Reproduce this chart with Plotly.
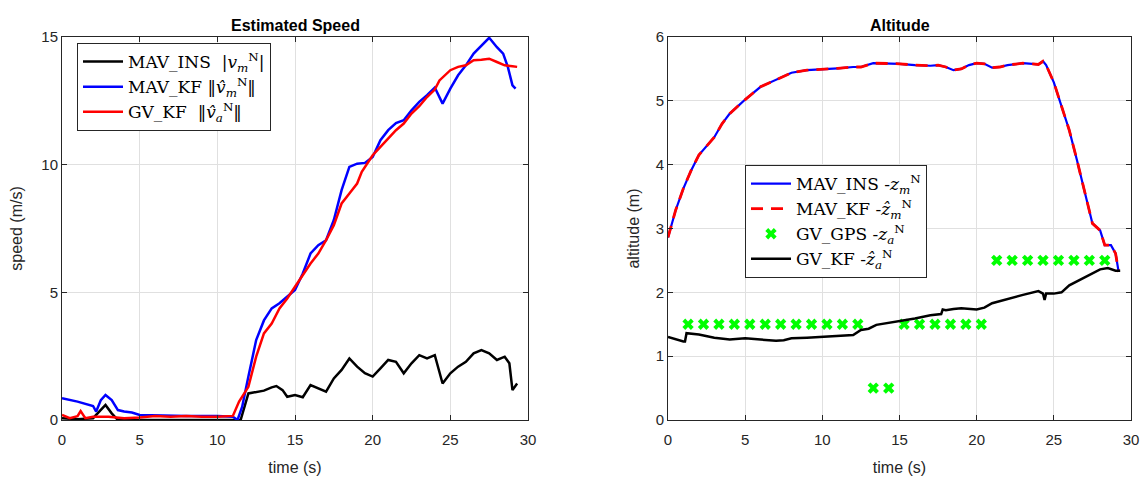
import plotly.graph_objects as go

# ---------------- Speed data ----------------
t_mav_kf = [0, 1, 2, 2.2, 2.5, 2.8, 3.2, 3.6, 4, 4.5, 5, 6, 8, 10, 11, 11.3, 11.6, 12, 12.5, 13, 13.5, 14,
            14.5, 15, 15.5, 16, 16.5, 17, 17.5, 18, 18.5, 19, 19.5, 20, 20.5, 21, 21.5, 22, 22.5, 23, 23.5,
            24, 24.5, 25, 25.5, 26, 26.5, 27, 27.5, 28, 28.4, 28.7, 29, 29.2]
v_mav_kf = [0.85, 0.72, 0.55, 0.33, 0.78, 0.98, 0.78, 0.39, 0.33, 0.29, 0.2, 0.18, 0.16, 0.16, 0.13, 0.0, 0.52,
            1.7, 3.13, 3.9, 4.37, 4.57, 4.83, 5.09, 5.74, 6.52, 6.85, 7.04, 7.83, 9.0, 9.91, 10.04, 10.07,
            10.3, 10.96, 11.35, 11.63, 11.74, 12.13, 12.46, 12.72, 13.02, 12.39, 12.98, 13.5, 13.89, 14.35,
            14.67, 14.97, 14.6, 14.35, 13.83, 13.11, 12.98]

t_gv_kf = [0, 0.5, 1, 1.2, 1.5, 2, 3, 4, 5, 6, 7, 8, 9, 10, 11, 11.4, 12, 12.5, 13, 13.5, 14, 14.5, 15, 15.5,
           16, 16.5, 17, 17.5, 18, 18.5, 19, 19.3, 20, 20.5, 21, 21.5, 22, 22.5, 23, 23.5, 24, 24.3, 25,
           25.5, 26, 26.5, 27, 27.5, 28, 28.5, 29, 29.3]
v_gv_kf = [0.2, 0.07, 0.15, 0.35, 0.07, 0.13, 0.13, 0.07, 0.1, 0.16, 0.13, 0.16, 0.13, 0.13, 0.16, 0.72, 1.3,
           2.48, 3.39, 3.78, 4.37, 4.76, 5.22, 5.67, 6.13, 6.52, 7.04, 7.63, 8.48, 8.87, 9.26, 9.72, 10.37,
           10.7, 11.02, 11.35, 11.61, 12.0, 12.29, 12.65, 12.94, 13.3, 13.7, 13.83, 13.89, 14.09, 14.11,
           14.15, 14.02, 13.89, 13.85, 13.83]

t_mav_ins = [0, 1, 2, 2.5, 2.8, 3.2, 3.6, 5, 8, 11, 11.5, 12, 12.5, 13, 13.5, 13.8, 14.2, 14.5, 15, 15.5, 16,
             16.5, 17, 17.5, 18, 18.5, 19, 19.5, 20, 20.5, 21, 21.5, 22, 22.5, 23, 23.5, 24, 24.5, 25, 25.5,
             26, 26.5, 27, 27.5, 28, 28.5, 28.8, 29, 29.3]
v_mav_ins = [0.07, 0.03, 0.07, 0.39, 0.59, 0.26, 0.0, 0.0, 0.0, 0.0, 0.0, 1.04, 1.11, 1.15, 1.28, 1.33, 1.17,
             0.91, 0.98, 0.89, 1.37, 1.24, 1.11, 1.63, 1.96, 2.41, 2.09, 1.83, 1.7, 2.02, 2.35, 2.28, 1.83,
             2.22, 2.54, 2.41, 2.54, 1.43, 1.83, 2.09, 2.28, 2.61, 2.74, 2.61, 2.35, 2.48, 2.22, 1.17, 1.43]

# ---------------- Altitude data ----------------
t_alt_mav = [0, 0.5, 1, 1.5, 2, 3, 3.5, 4, 4.5, 5, 6, 7, 8, 9, 10, 11, 12, 12.5, 13.3, 14, 15, 16, 17, 17.5,
             18, 18.5, 19, 19.5, 20, 20.5, 21, 21.5, 22, 23, 24, 24.3, 24.5, 25, 25.5, 26, 26.5, 27, 27.5,
             28, 28.3, 28.7, 29, 29.2]
z_alt_mav = [2.86, 3.29, 3.63, 3.91, 4.15, 4.43, 4.64, 4.8, 4.91, 5.02, 5.22, 5.33, 5.44, 5.48, 5.49, 5.51,
             5.53, 5.53, 5.59, 5.59, 5.58, 5.56, 5.55, 5.56, 5.53, 5.48, 5.5, 5.56, 5.59, 5.58, 5.52, 5.53,
             5.56, 5.59, 5.57, 5.62, 5.56, 5.29, 4.9, 4.54, 4.07, 3.55, 3.08, 2.97, 2.74, 2.74, 2.61, 2.32]

t_alt_gvkf = [0, 0.5, 1, 1.1, 1.2, 2, 3, 4, 5, 6, 7, 7.5, 8, 9, 10, 11, 12, 12.5, 13, 13.5, 14, 15, 16, 17,
              17.7, 17.8, 18, 18.5, 19, 20, 20.5, 21, 22, 23, 24, 24.3, 24.4, 24.5, 25, 25.5, 26, 27, 28,
              28.5, 29, 29.3]
z_alt_gvkf = [1.3, 1.26, 1.23, 1.23, 1.36, 1.34, 1.29, 1.26, 1.28, 1.26, 1.24, 1.25, 1.28, 1.29, 1.3, 1.31,
              1.33, 1.41, 1.43, 1.49, 1.51, 1.54, 1.59, 1.64, 1.66, 1.73, 1.72, 1.74, 1.75, 1.73, 1.76, 1.83,
              1.9, 1.96, 2.02, 1.98, 1.88, 1.98, 1.98, 2.0, 2.11, 2.24, 2.36, 2.38, 2.34, 2.34]

t_gps = [1.3, 2.3, 3.3, 4.3, 5.3, 6.3, 7.3, 8.3, 9.3, 10.3, 11.3, 12.3, 13.3, 14.3, 15.3, 16.3, 17.3, 18.3,
         19.3, 20.3, 21.3, 22.3, 23.3, 24.3, 25.3, 26.3, 27.3, 28.3]
z_gps = [1.5, 1.5, 1.5, 1.5, 1.5, 1.5, 1.5, 1.5, 1.5, 1.5, 1.5, 1.5, 0.5, 0.5, 1.5, 1.5, 1.5, 1.5, 1.5, 1.5,
         2.5, 2.5, 2.5, 2.5, 2.5, 2.5, 2.5, 2.5]

speed_yticks = [0, 5, 10, 15]
alt_yticks = [0, 1, 2, 3, 4, 5, 6]
time_ticks = [0, 5, 10, 15, 20, 25, 30]

W, H = 1140, 479


def px(x):
    return x / W


def py(y):
    return (H - y) / H


SERIF = "DejaVu Serif, Liberation Serif, serif"
SANS = "Liberation Sans, Arial, sans-serif"

fig = go.Figure()

# Left plot
fig.add_trace(go.Scatter(x=t_mav_ins, y=v_mav_ins, mode="lines", line=dict(color="black", width=2.5),
                         name="MAV_INS  |<i>v</i><sub><i>m</i></sub><sup>N</sup>|", xaxis="x", yaxis="y",
                         legend="legend"))
fig.add_trace(go.Scatter(x=t_mav_kf, y=v_mav_kf, mode="lines", line=dict(color="#0000ff", width=2.5),
                         name="MAV_KF ‖<i>v\u0302</i><sub><i>m</i></sub><sup>N</sup>‖", xaxis="x", yaxis="y",
                         legend="legend"))
fig.add_trace(go.Scatter(x=t_gv_kf, y=v_gv_kf, mode="lines", line=dict(color="#ff0000", width=2.5),
                         name="GV_KF  ‖<i>v\u0302</i><sub><i>a</i></sub><sup>N</sup>‖", xaxis="x", yaxis="y",
                         legend="legend"))

# Right plot
fig.add_trace(go.Scatter(x=t_alt_mav, y=z_alt_mav, mode="lines", line=dict(color="#0000ff", width=2.2),
                         name="MAV_INS -<i>z</i><sub><i>m</i></sub><sup>N</sup>", xaxis="x2", yaxis="y2",
                         legend="legend2"))
fig.add_trace(go.Scatter(x=t_alt_mav, y=z_alt_mav, mode="lines",
                         line=dict(color="#ff0000", width=2.8, dash="12px,8px"),
                         name="MAV_KF -<i>z\u0302</i><sub><i>m</i></sub><sup>N</sup>", xaxis="x2", yaxis="y2",
                         legend="legend2"))
fig.add_trace(go.Scatter(x=t_gps, y=z_gps, mode="markers",
                         marker=dict(symbol="x", size=10, color="#00ff00"),
                         name="GV_GPS -<i>z</i><sub><i>a</i></sub><sup>N</sup>", xaxis="x2", yaxis="y2",
                         legend="legend2"))
fig.add_trace(go.Scatter(x=t_alt_gvkf, y=z_alt_gvkf, mode="lines", line=dict(color="black", width=2.5),
                         name="GV_KF -<i>z\u0302</i><sub><i>a</i></sub><sup>N</sup>", xaxis="x2", yaxis="y2",
                         legend="legend2"))

ydom = [py(420), py(37)]
axis_common = dict(showline=True, linecolor="#262626", linewidth=1, mirror="ticks", ticks="inside",
                   ticklen=5, tickcolor="#262626", showgrid=True, gridcolor="#e0e0e0", gridwidth=1,
                   zeroline=False, automargin=False,
                   tickfont=dict(family=SANS, size=15, color="#262626"),
                   title_font=dict(family=SANS, size=16, color="#262626"))

fig.update_layout(
    template="none",
    width=W, height=H, margin=dict(l=0, r=0, t=0, b=0, autoexpand=False),
    paper_bgcolor="white", plot_bgcolor="white",
    xaxis=dict(domain=[px(62), px(528)], range=[0, 30], tickvals=time_ticks, anchor="y",
               ticklabelstandoff=6, title=dict(text="time (s)", standoff=14), **axis_common),
    yaxis=dict(domain=ydom, range=[0, 15], tickvals=speed_yticks, anchor="x",
               title=dict(text="speed (m/s)", standoff=14), **axis_common),
    xaxis2=dict(domain=[px(668), px(1131)], range=[0, 30], tickvals=time_ticks, anchor="y2",
                ticklabelstandoff=6, title=dict(text="time (s)", standoff=14), **axis_common),
    yaxis2=dict(domain=ydom, range=[0, 6], tickvals=alt_yticks, anchor="x2",
                title=dict(text="altitude (m)", standoff=12), **axis_common),
    legend=dict(x=px(77), y=py(43), xanchor="left", yanchor="top", bgcolor="white",
                bordercolor="#262626", borderwidth=1, font=dict(family=SERIF, size=17, color="black"),
                tracegroupgap=0, itemwidth=40),
    legend2=dict(x=px(745), y=py(165), xanchor="left", yanchor="top", bgcolor="white",
                 bordercolor="#262626", borderwidth=1, font=dict(family=SERIF, size=17, color="black"),
                 tracegroupgap=0, itemwidth=40),
    annotations=[
        dict(text="<b>Estimated Speed</b>", x=px((62 + 528) / 2), y=py(25), xref="paper", yref="paper",
             xanchor="center", yanchor="middle", showarrow=False,
             font=dict(family=SANS, size=16, color="black")),
        dict(text="<b>Altitude</b>", x=px((668 + 1131) / 2), y=py(25), xref="paper", yref="paper",
             xanchor="center", yanchor="middle", showarrow=False,
             font=dict(family=SANS, size=16, color="black")),
    ],
)

fig.write_html(
    "out.html",
    config={"displayModeBar": False},
    post_script="document.body.style.margin='0';document.body.style.overflow='hidden';",
)
